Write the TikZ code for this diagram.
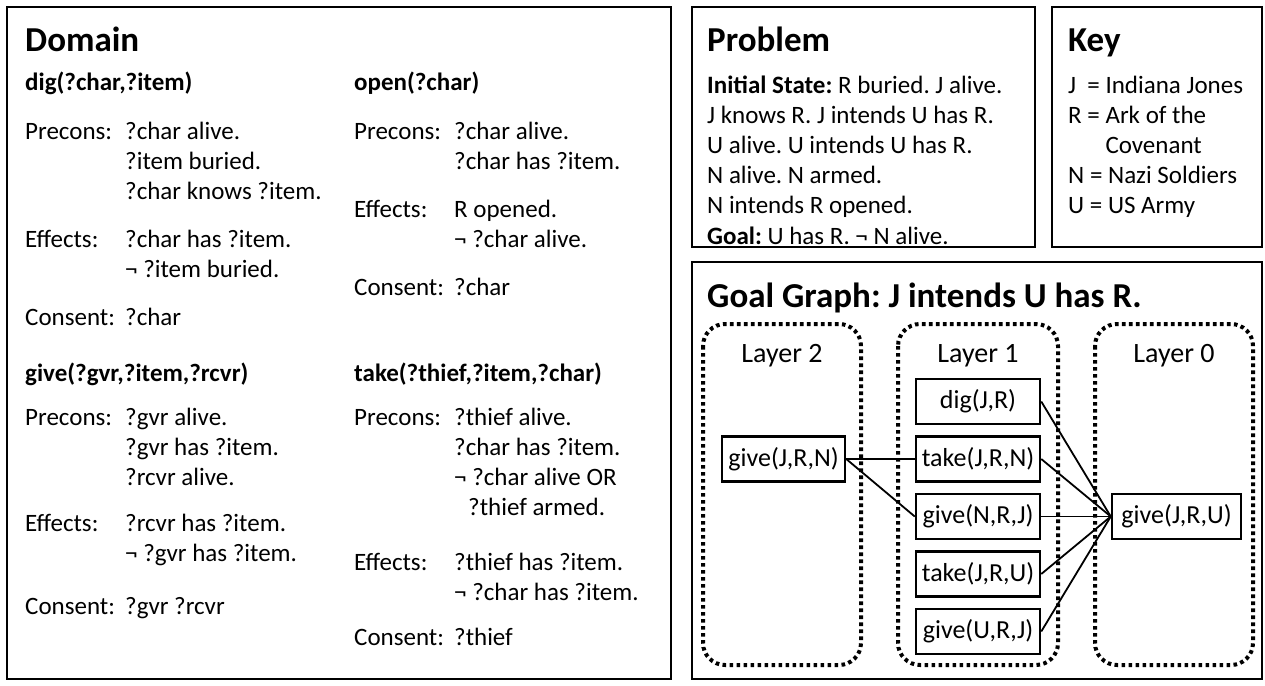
\documentclass[tikz,border=0pt]{standalone}
\usepackage{fontspec}
\setmainfont{Carlito}
\frenchspacing
\newcommand{\lbl}[1]{\makebox[100pt][l]{#1}}
\newcommand{\bodyfont}{\fontsize{25}{30}\selectfont}
\newcommand{\panelbody}{\fontsize{25}{30.2}\selectfont}
\begin{document}
\begin{tikzpicture}[x=1pt,y=-1pt,
  panel/.style={draw, line width=2pt},
  layerbox/.style={draw, line width=4pt, dash pattern=on 3.6pt off 3.4pt, rounded corners=22pt},
  act/.style={draw, line width=2.5pt, minimum width=124pt, minimum height=45pt, inner sep=0pt, font=\fontsize{26}{30}\selectfont},
  txt/.style={anchor=base west, inner sep=0pt, align=left},
  heading/.style={txt, font=\fontsize{35}{40}\selectfont\bfseries},
  acttitle/.style={txt, font=\fontsize{25}{30}\selectfont\bfseries},
  layerlbl/.style={anchor=base, inner sep=0pt, font=\fontsize{28}{32}\selectfont},
  link/.style={line width=1.8pt}]
\useasboundingbox (0,0) rectangle (1265,685);
% panels
\draw[panel] (7,7) rectangle (671,679);
\draw[panel] (692,7) rectangle (1035,247);
\draw[panel] (1052,7) rectangle (1262,247);
\draw[panel] (692,262) rectangle (1262,679);

% Domain
\node[heading] (domain) at (25,52) {Domain};
\node[acttitle] (digt) at (25,90) {dig(?char,?item)};
\node[acttitle] (opent) at (354,90) {open(?char)};
\node[txt, font=\bodyfont] (digb) at (25,139) {\begin{tabular}[t]{@{}l@{}l@{}}
\lbl{Precons:} & ?char alive.\\
 & ?item buried.\\
 & ?char knows ?item.\\[18pt]
\lbl{Effects:} & ?char has ?item.\\
 & ¬ ?item buried.\\[18pt]
\lbl{Consent:} & ?char
\end{tabular}};
\node[txt, font=\bodyfont] (openb) at (354,139) {\begin{tabular}[t]{@{}l@{}l@{}}
\lbl{Precons:} & ?char alive.\\
 & ?char has ?item.\\[18pt]
\lbl{Effects:} & R opened.\\
 & ¬ ?char alive.\\[18pt]
\lbl{Consent:} & ?char
\end{tabular}};
\node[acttitle] (givet) at (25,381) {give(?gvr,?item,?rcvr)};
\node[acttitle] (taket) at (354,381) {take(?thief,?item,?char)};
\node[txt, font=\bodyfont] (giveb) at (25,425) {\begin{tabular}[t]{@{}l@{}l@{}}
\lbl{Precons:} & ?gvr alive.\\
 & ?gvr has ?item.\\
 & ?rcvr alive.\\[16pt]
\lbl{Effects:} & ?rcvr has ?item.\\
 & ¬ ?gvr has ?item.\\[23pt]
\lbl{Consent:} & ?gvr ?rcvr
\end{tabular}};
\node[txt, font=\bodyfont] (takeb) at (354,425) {\begin{tabular}[t]{@{}l@{}l@{}}
\lbl{Precons:} & ?thief alive.\\
 & ?char has ?item.\\
 & ¬ ?char alive OR\\
 & \hspace{14pt}?thief armed.\\[25pt]
\lbl{Effects:} & ?thief has ?item.\\
 & ¬ ?char has ?item.\\[15pt]
\lbl{Consent:} & ?thief
\end{tabular}};

% Problem
\node[heading] (problem) at (707,52) {Problem};
\node[txt, font=\panelbody] (probb) at (707,93) {\begin{tabular}[t]{@{}l@{}}
\textbf{Initial State:} R buried. J alive.\\
J knows R. J intends U has R.\\
U alive. U intends U has R.\\
N alive. N armed.\\
N intends R opened.\\
\textbf{Goal:} U has R. ¬ N alive.
\end{tabular}};

% Key
\node[heading] (key) at (1068,52) {Key};
\node[txt, font=\panelbody] (keyb) at (1068,93) {\begin{tabular}[t]{@{}l@{}}
\rlap{J}\hphantom{R} = Indiana Jones\\
R = Ark of the\\
\hphantom{R = }Covenant\\
N = Nazi Soldiers\\
U = US Army
\end{tabular}};

% Goal graph
\node[heading] (gg) at (707,307) {Goal Graph: J intends U has R.};
\draw[layerbox] (703,324) rectangle (861,665);
\draw[layerbox] (898,324) rectangle (1058,665);
\draw[layerbox] (1095,324) rectangle (1253,665);
\node[layerlbl] (l2) at (782,362) {Layer 2};
\node[layerlbl] (l1) at (978,362) {Layer 1};
\node[layerlbl] (l0) at (1174,362) {Layer 0};

\node[act, minimum width=123pt] (gjrn) at (783.5,459) {give(J,R,N)};
\node[act] (digjr) at (978,401.5) {dig(J,R)};
\node[act] (tjrn) at (978,459) {take(J,R,N)};
\node[act] (gnrj) at (978,516.5) {give(N,R,J)};
\node[act] (tjru) at (978,574) {take(J,R,U)};
\node[act] (gurj) at (978,631.5) {give(U,R,J)};
\node[act, minimum width=129pt] (gjru) at (1176.5,516.5) {give(J,R,U)};

\draw[link] (gjrn.east) -- (tjrn.west);
\draw[link] (gjrn.east) -- (gnrj.west);
\foreach \n in {digjr,tjrn,gnrj,tjru,gurj}
  \draw[link] (\n.east) -- (gjru.west);
\end{tikzpicture}
\end{document}
